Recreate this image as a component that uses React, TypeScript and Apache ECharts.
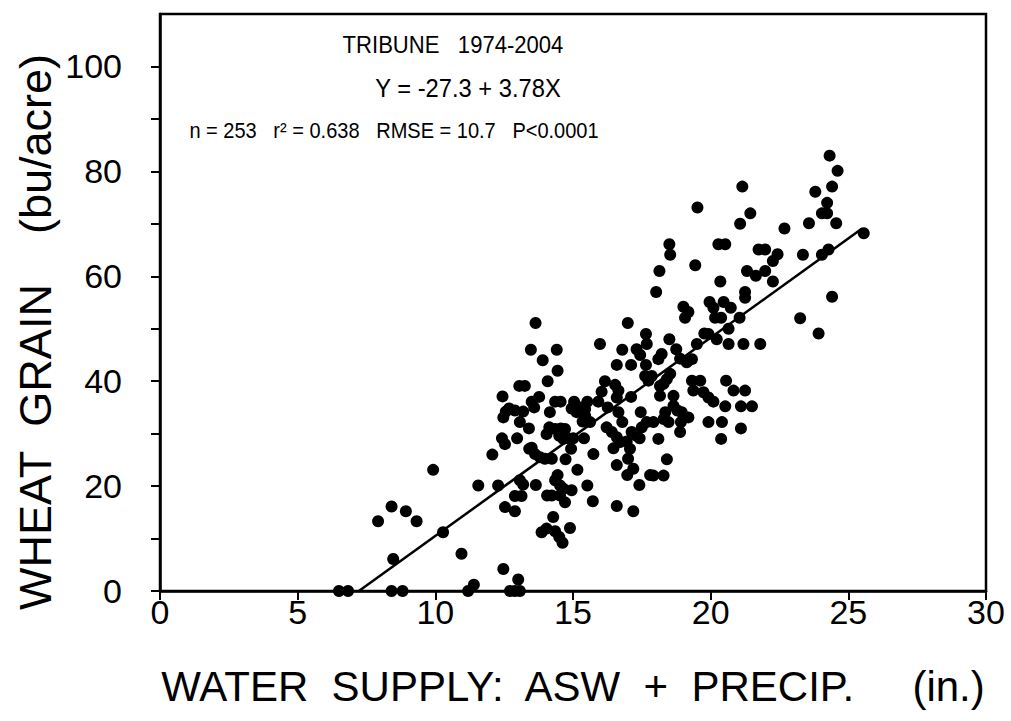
import React, { useEffect, useRef } from "react";
import * as echarts from "echarts";

// Water supply (in.) and wheat grain yield (bu/acre)
const waterSupply: number[] = [
  6.50, 6.83, 8.41, 8.81, 11.19, 11.40, 12.71, 12.89, 13.07, 13.01,
  12.47, 10.95, 8.47, 10.28, 7.92, 8.41, 8.93, 9.32, 9.92, 11.56,
  12.28, 12.07, 12.42, 12.53, 12.97, 13.07, 13.19, 12.89, 13.13, 12.53,
  12.89, 13.41, 13.07, 13.64, 13.47, 14.41, 13.90, 14.44, 14.08, 13.05,
  13.25, 12.44, 13.77, 13.50, 13.59, 14.35, 14.55, 12.68, 12.56, 12.89,
  13.19, 12.47, 14.16, 13.40, 13.50, 13.62, 13.80, 13.98, 14.23, 14.14,
  14.35, 14.56, 14.71, 14.04, 14.50, 14.65, 14.83, 15.01, 14.93, 14.73,
  15.40, 15.74, 15.16, 14.44, 14.35, 14.53, 14.65, 13.65, 14.06, 14.23,
  14.53, 14.71, 14.95, 15.52, 15.72, 14.28, 13.86, 14.04, 14.35, 14.50,
  14.62, 14.89, 15.98, 16.99, 17.65, 16.79, 17.31, 17.44, 17.68, 16.59,
  17.11, 17.65, 17.62, 16.16, 16.53, 16.65, 16.04, 16.59, 17.11, 15.04,
  15.52, 15.92, 14.95, 15.25, 15.44, 15.13, 15.44, 16.26, 16.65, 15.35,
  15.62, 17.46, 16.22, 16.41, 16.59, 16.71, 16.79, 17.13, 17.31, 17.50,
  17.42, 16.47, 16.95, 17.07, 17.00, 16.59, 17.19, 16.97, 17.41, 17.80,
  16.59, 17.19, 17.68, 19.52, 21.44, 21.07, 22.68, 18.50, 18.53, 20.28,
  20.53, 21.74, 21.98, 22.43, 22.26, 19.44, 18.14, 21.32, 21.64, 21.98,
  22.26, 20.35, 18.02, 21.25, 21.25, 19.96, 20.10, 20.47, 20.73, 19.01,
  19.19, 19.07, 20.16, 20.38, 21.05, 20.65, 19.77, 19.92, 20.22, 18.50,
  19.50, 20.65, 21.19, 21.80, 18.75, 18.22, 18.10, 18.89, 19.13, 19.32,
  17.86, 18.53, 18.41, 18.29, 18.16, 18.16, 18.65, 19.32, 19.62, 19.37,
  19.74, 19.92, 20.10, 20.56, 20.83, 21.25, 20.53, 21.10, 21.50, 18.65,
  18.79, 18.95, 19.19, 18.35, 18.29, 17.92, 18.47, 18.92, 19.92, 20.41,
  21.10, 18.89, 18.10, 20.38, 18.41, 17.92, 18.29, 24.32, 24.61, 24.41,
  23.80, 24.23, 24.04, 24.23, 23.57, 24.56, 25.56, 23.35, 24.04, 24.28,
  24.41, 23.25, 23.92, 21.15, 17.74,
];
const grainYield: number[] = [
  0, 0, 0, 0, 0, 1.2, 0, 0, 0, 2.2,
  4.2, 7.1, 6.1, 11.2, 13.3, 16.1, 15.2, 13.3, 23.1, 20.1,
  20.1, 26.0, 29.1, 28.0, 29.1, 21.1, 20.3, 18.1, 18.1, 16.0,
  15.2, 27.1, 32.2, 51.1, 46.0, 46.0, 44.0, 42.0, 40.0, 39.1,
  39.1, 37.1, 37.0, 36.1, 35.0, 36.1, 36.1, 34.8, 34.2, 34.4,
  34.2, 33.1, 34.1, 31.0, 27.3, 26.1, 25.5, 25.2, 25.2, 31.2,
  30.9, 31.0, 30.9, 29.9, 29.6, 29.0, 29.1, 29.1, 27.1, 25.1,
  29.1, 26.1, 23.1, 22.1, 21.1, 20.1, 19.5, 20.2, 18.2, 18.2,
  18.2, 16.9, 19.2, 20.1, 17.1, 14.1, 11.2, 11.9, 11.4, 10.3,
  9.2, 12.0, 47.1, 51.1, 49.0, 46.0, 46.1, 45.0, 47.1, 43.1,
  43.1, 43.1, 41.0, 40.0, 39.3, 38.2, 38.0, 36.9, 37.0, 36.1,
  36.1, 36.1, 34.8, 35.0, 34.7, 34.1, 33.4, 35.0, 34.1, 32.3,
  32.2, 34.1, 31.2, 30.3, 29.3, 28.4, 32.2, 30.3, 29.6, 31.2,
  29.1, 27.2, 28.5, 27.1, 25.2, 24.0, 23.3, 22.1, 20.2, 22.1,
  16.2, 15.2, 32.2, 73.1, 72.0, 70.0, 69.1, 66.1, 64.1, 66.1,
  66.1, 65.1, 65.1, 64.2, 62.9, 62.1, 61.0, 61.0, 60.1, 61.0,
  59.0, 59.0, 57.0, 57.0, 55.9, 55.1, 54.0, 55.1, 54.0, 54.2,
  53.2, 52.1, 52.1, 52.1, 52.1, 50.0, 49.1, 49.0, 48.0, 48.0,
  47.1, 47.1, 47.1, 47.1, 46.1, 45.2, 44.2, 44.3, 43.6, 44.2,
  41.0, 41.4, 40.4, 39.5, 39.1, 37.2, 37.2, 40.1, 40.1, 38.2,
  37.9, 36.9, 36.1, 40.1, 38.2, 38.2, 35.2, 35.2, 35.2, 35.3,
  34.4, 34.1, 33.1, 34.1, 32.8, 32.2, 32.2, 32.2, 32.2, 32.2,
  31.0, 30.3, 29.0, 29.0, 25.1, 22.0, 22.0, 83.0, 80.1, 77.1,
  76.1, 74.0, 72.0, 72.0, 70.1, 70.1, 68.2, 64.1, 64.1, 65.1,
  56.1, 52.0, 49.1, 77.1, 40.1,
];

// Regression: Y = -27.3 + 3.78X, drawn over the observed range
const intercept = -27.3;
const slope = 3.78;
const fitXStart = -intercept / slope;
const fitXEnd = 25.5;

const xTicks = [0, 5, 10, 15, 20, 25, 30];
const yTicks = [0, 10, 20, 30, 40, 50, 60, 70, 80, 90, 100];
const yLabels = [0, 20, 40, 60, 80, 100];

const annotationLines = [
  "TRIBUNE   1974-2004",
  "Y = -27.3 + 3.78X",
  "n = 253   r² = 0.638   RMSE = 10.7   P<0.0001",
];
const xTitle = "WATER  SUPPLY:  ASW  +  PRECIP.     (in.)";
const yTitle = "WHEAT  GRAIN    (bu/acre)";

const FONT = "'Liberation Sans', Arial, Helvetica, sans-serif";

export default function App() {
  const ref = useRef<HTMLDivElement>(null);
  useEffect(() => {
    if (!ref.current) return;
    const chart = echarts.init(ref.current, undefined, { renderer: "svg" });
    const points = waterSupply.map((x, i) => [x, grainYield[i]]);
    const fit = [
      [fitXStart, intercept + slope * fitXStart],
      [fitXEnd, intercept + slope * fitXEnd],
    ];
    const annX = [453, 468, 394];
    const annY = [45, 88, 130];
    const annSize = [24, 25, 22];
    const annScaleX = [0.92, 0.95, 0.91];
    chart.setOption({
      animation: false,
      backgroundColor: "#ffffff",
      grid: {
        left: 160,
        right: 25,
        top: 14,
        bottom: 130,
        show: true,
        borderColor: "#000",
        borderWidth: 2.5,
        backgroundColor: "transparent",
      },
      xAxis: {
        type: "value",
        min: 0,
        max: 30,
        interval: 5,
        splitLine: { show: false },
        axisLine: { show: true, onZero: false, lineStyle: { color: "#000", width: 2.5 } },
        axisTick: { show: true, inside: false, length: 9, customValues: xTicks, lineStyle: { color: "#000", width: 2 } },
        axisLabel: {
          color: "#000",
          fontSize: 34,
          fontFamily: FONT,
          margin: 4,
          customValues: xTicks,
        },
      },
      yAxis: {
        type: "value",
        min: 0,
        max: 110,
        interval: 10,
        splitLine: { show: false },
        axisLine: { show: true, onZero: false, lineStyle: { color: "#000", width: 2.5 } },
        axisTick: { show: true, inside: false, length: 9, customValues: yTicks, lineStyle: { color: "#000", width: 2 } },
        axisLabel: {
          color: "#000",
          fontSize: 34,
          fontFamily: FONT,
          margin: 38,
          customValues: yLabels,
        },
      },
      graphic: [
        ...annotationLines.map((t, i) => ({
          type: "text",
          x: annX[i],
          y: annY[i],
          scaleX: annScaleX[i],
          style: {
            text: t,
            fill: "#000",
            fontSize: annSize[i],
            fontFamily: FONT,
            align: "center",
            verticalAlign: "middle",
          },
          silent: true,
        })),
        {
          type: "text",
          x: 573,
          y: 686,
          style: {
            text: xTitle,
            fill: "#000",
            fontSize: 42,
            fontFamily: FONT,
            align: "center",
            verticalAlign: "middle",
          },
          silent: true,
        },
        {
          type: "text",
          x: 35,
          y: 332,
          rotation: Math.PI / 2,
          style: {
            text: yTitle,
            fill: "#000",
            fontSize: 45,
            fontFamily: FONT,
            align: "center",
            verticalAlign: "middle",
          },
          silent: true,
        },
      ],
      series: [
        {
          type: "scatter",
          data: points,
          symbol: "circle",
          symbolSize: 12,
          itemStyle: { color: "#000", opacity: 1 },
          silent: true,
          z: 3,
        },
        {
          type: "line",
          data: fit,
          symbol: "none",
          lineStyle: { color: "#000", width: 2.5 },
          silent: true,
          z: 2,
        },
      ],
    });
    return () => chart.dispose();
  }, []);
  return (
    <div
      ref={ref}
      style={{ position: "absolute", left: 0, top: 0, width: 1011, height: 721, background: "#fff" }}
    />
  );
}
